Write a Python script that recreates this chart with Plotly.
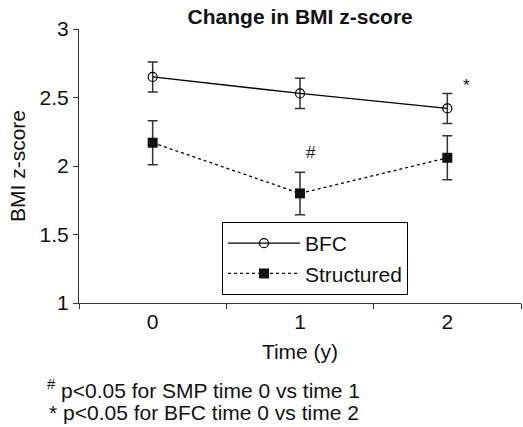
import plotly.graph_objects as go

# Time points (years) and BMI z-score means with error half-widths
time_labels = ["0", "1", "2"]
bfc_mean = [2.65, 2.53, 2.42]
bfc_err = [0.11, 0.11, 0.11]
structured_mean = [2.17, 1.80, 2.06]
structured_err = [0.16, 0.155, 0.16]

y_ticks = [1, 1.5, 2, 2.5, 3]
y_tick_text = ["1", "1.5", "2", "2.5", "3"]

FONT = "Liberation Sans, Arial, Helvetica, sans-serif"
TXT = "#111111"

fig = go.Figure()

fig.add_trace(go.Scatter(
    x=time_labels, y=bfc_mean, name="BFC", mode="lines+markers",
    line=dict(color="black", width=1.3),
    marker=dict(symbol="circle-open", size=9, color="black", line=dict(width=1.2)),
    error_y=dict(type="data", array=bfc_err, color="#333333", thickness=1.5, width=5),
))

fig.add_trace(go.Scatter(
    x=time_labels, y=structured_mean, name="Structured", mode="lines+markers",
    line=dict(color="black", width=1.3, dash="3px,3px"),
    marker=dict(symbol="square", size=10, color="#111111"),
    error_y=dict(type="data", array=structured_err, color="#333333", thickness=1.5, width=5),
))

# Significance markers
fig.add_annotation(x="1", y=structured_mean[1] + structured_err[1], text="#",
                   showarrow=False, yshift=20, xshift=11,
                   font=dict(family=FONT, size=17, color=TXT))
fig.add_annotation(x="2", y=bfc_mean[2] + bfc_err[2], text="*",
                   showarrow=False, yshift=8, xshift=19,
                   font=dict(family=FONT, size=17, color=TXT))

# Footnotes
fig.add_annotation(xref="paper", yref="paper", x=-0.077, y=-0.26, xanchor="left",
                   yanchor="top", showarrow=False, align="left",
                   text="<sup>#</sup> p&lt;0.05 for SMP time 0 vs time 1",
                   font=dict(family=FONT, size=21, color=TXT))
fig.add_annotation(xref="paper", yref="paper", x=-0.073, y=-0.35, xanchor="left",
                   yanchor="top", showarrow=False, align="left",
                   text="* p&lt;0.05 for BFC time 0 vs time 2",
                   font=dict(family=FONT, size=21, color=TXT))

fig.update_layout(
    width=523, height=427,
    margin=dict(l=79, r=2, t=29, b=124),
    paper_bgcolor="white", plot_bgcolor="white",
    font=dict(family=FONT, color=TXT),
    title=dict(text="<b>Change in BMI z-score</b>", x=0.574, xanchor="center",
               y=0.962, yanchor="middle", font=dict(family=FONT, size=21, color=TXT)),
    showlegend=True,
    legend=dict(x=0.3235, y=0.2956, xanchor="left", yanchor="top",
                bordercolor="black", borderwidth=1, bgcolor="white",
                font=dict(family=FONT, size=21, color=TXT),
                tracegroupgap=0, itemwidth=72),
    xaxis=dict(
        type="category", range=[-0.5, 2.5], tickson="boundaries",
        ticks="outside", ticklen=5, tickwidth=1, tickcolor="#333",
        showline=True, linecolor="#333", linewidth=1.2, showgrid=False,
        tickfont=dict(family=FONT, size=21, color=TXT),
        title=dict(text="Time (y)", font=dict(family=FONT, size=21, color=TXT), standoff=12),
        zeroline=False,
    ),
    yaxis=dict(
        range=[1, 3], tickvals=y_ticks, ticktext=y_tick_text,
        ticks="outside", ticklen=5, tickwidth=1, tickcolor="#333",
        showline=True, linecolor="#333", linewidth=1.2, showgrid=False, zeroline=False,
        tickfont=dict(family=FONT, size=21, color=TXT),
        title=dict(text="BMI z-score", font=dict(family=FONT, size=21, color=TXT), standoff=8),
    ),
)

fig.write_html("out.html")
